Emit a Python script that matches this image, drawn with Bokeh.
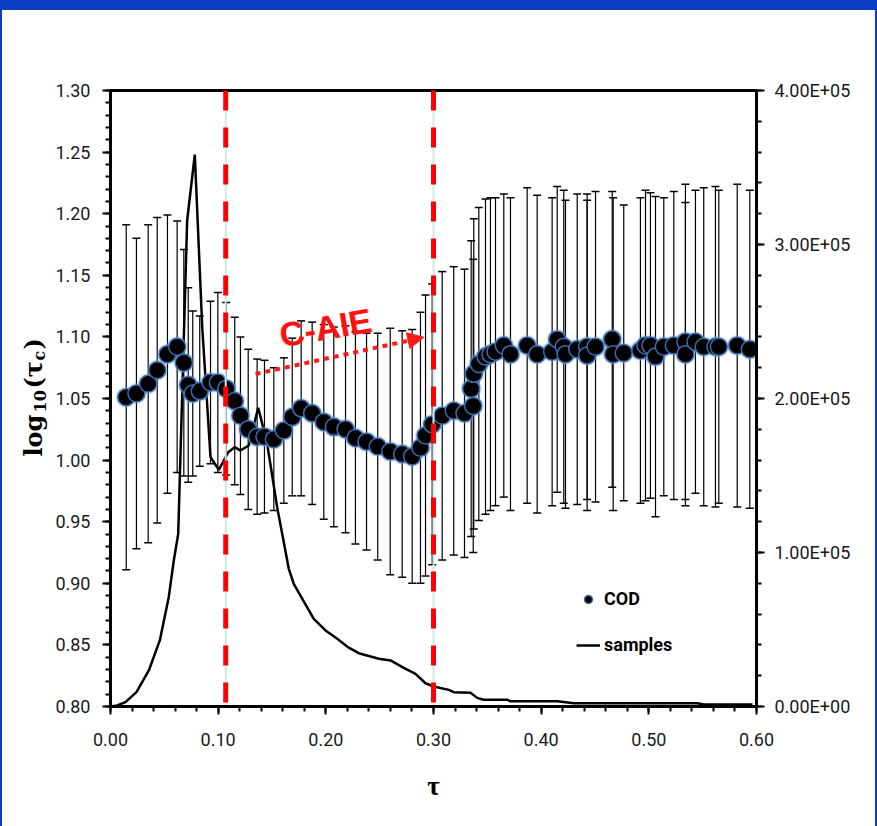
from bokeh.plotting import figure
from bokeh.models import (Range1d, LinearAxis, Whisker, TeeHead, ColumnDataSource, Label, Arrow,
                          NormalHead, Legend, LegendItem, SingleIntervalTicker, PrintfTickFormatter,
                          CustomJSTickFormatter, Div)
from bokeh.layouts import column, row
from bokeh.embed import file_html
from bokeh.resources import INLINE
import math

# ---------------- data ----------------
tau = [0.0146, 0.0241, 0.0350, 0.0434, 0.0529, 0.0619, 0.0681, 0.0722, 0.0764, 0.0829,
       0.0929, 0.0997, 0.1075, 0.1154, 0.1207, 0.1279, 0.1362, 0.1430, 0.1517, 0.1610,
       0.1688, 0.1771, 0.1873, 0.1981, 0.2074, 0.2183, 0.2275, 0.2378, 0.2482, 0.2598,
       0.2709, 0.2802, 0.2879, 0.2926, 0.2988, 0.3081, 0.3188, 0.3288, 0.3369, 0.3350,
       0.3374, 0.3421, 0.3483, 0.3529, 0.3576, 0.3653, 0.3715, 0.3870, 0.3963, 0.4102,
       0.4149, 0.4210, 0.4226, 0.4335, 0.4427, 0.4427, 0.4505, 0.4660, 0.4669, 0.4767,
       0.4922, 0.4969, 0.5015, 0.5062, 0.5139, 0.5232, 0.5340, 0.5340, 0.5433, 0.5510,
       0.5619, 0.5650, 0.5821, 0.5938]
cod = [1.051, 1.054, 1.062, 1.073, 1.086, 1.092, 1.079, 1.061, 1.054, 1.056,
       1.063, 1.063, 1.058, 1.048, 1.036, 1.025, 1.019, 1.019, 1.017, 1.024,
       1.035, 1.042, 1.038, 1.031, 1.027, 1.025, 1.018, 1.015, 1.011, 1.007,
       1.005, 1.003, 1.010, 1.020, 1.029, 1.036, 1.040, 1.038, 1.044, 1.058,
       1.070, 1.078, 1.084, 1.086, 1.088, 1.093, 1.086, 1.093, 1.086, 1.088,
       1.098, 1.092, 1.086, 1.090, 1.092, 1.085, 1.092, 1.098, 1.086, 1.087,
       1.089, 1.093, 1.093, 1.084, 1.092, 1.093, 1.096, 1.086, 1.096, 1.092,
       1.092, 1.092, 1.093, 1.090]
cod_err = [0.140, 0.126, 0.129, 0.124, 0.113, 0.102, 0.092, 0.079, 0.067, 0.061,
           0.066, 0.073, 0.070, 0.068, 0.064, 0.065, 0.063, 0.062, 0.058, 0.059,
           0.064, 0.071, 0.074, 0.079, 0.081, 0.084, 0.086, 0.088, 0.092, 0.100,
           0.100, 0.103, 0.110, 0.114, 0.114, 0.117, 0.117, 0.117, 0.119, 0.120,
           0.126, 0.127, 0.128, 0.127, 0.125, 0.123, 0.127, 0.128, 0.129, 0.125,
           0.124, 0.127, 0.125, 0.126, 0.124, 0.126, 0.126, 0.120, 0.127, 0.120,
           0.124, 0.126, 0.124, 0.130, 0.121, 0.125, 0.128, 0.123, 0.123, 0.129,
           0.130, 0.127, 0.131, 0.129]

samp_tau = [0.0, 0.0062, 0.0139, 0.0241, 0.0356, 0.0458, 0.0541, 0.0588, 0.0629, 0.0712,
            0.0783, 0.0852, 0.0929, 0.1006, 0.1093, 0.1154, 0.1207, 0.1284, 0.1372, 0.1455,
            0.1548, 0.1656, 0.1702, 0.1888, 0.1997, 0.2106, 0.2213, 0.2306, 0.2492, 0.2601,
            0.2724, 0.2833, 0.2926, 0.3003, 0.3142, 0.3188, 0.3344, 0.3406, 0.3467, 0.3684,
            0.3715, 0.4149, 0.4303, 0.5449, 0.5510, 0.5963]
samples = [0, 650, 2800, 9300, 23400, 42900, 71000, 94800, 112100, 315600,
           358400, 246300, 161900, 153700, 165100, 168400, 166200, 169500, 194000, 170600,
           129400, 89400, 79700, 56900, 49400, 44000, 38200, 34600, 31000, 29900,
           25100, 21200, 15100, 13000, 10800, 9300, 8900, 5600, 4400, 4400,
           3400, 3400, 2100, 2100, 1300, 1300]

regime_bounds = [0.107, 0.300]
caie_arrow = [0.1347, 1.0699, 0.291, 1.0997]   # x0, y0, x1, y1
caie_label = ["C-AIE", 0.1997, 1.1076]

# y-axis title "log10(tau_c)" split into normal / subscript pieces
ytitle_text = ["log", "10", "(τ", "c", ")"]
ytitle_size = ["24px", "16px", "24px", "16px", "24px"]
ytitle_sub = [False, True, False, True, False]
ytitle_advance = [44, 24, 28, 11, 0]     # pixels along the rotated baseline

TICK_FONT = "'Liberation Sans Narrow', 'Arial Narrow', Roboto, sans-serif"
SERIF = "'Liberation Serif', 'Times New Roman', serif"
TITLE_FONT = "DejaVu Serif"
BLUE = "#0a3cc4"
FIG_H = 816
TITLE_W = 50

# ---------------- y-title strip ----------------
tfig = figure(width=TITLE_W, height=FIG_H, x_range=Range1d(0, TITLE_W), y_range=Range1d(0, FIG_H),
              output_backend="svg", toolbar_location=None,
              x_axis_location=None, y_axis_location=None,
              min_border_left=0, min_border_right=0, min_border_top=0, min_border_bottom=0)
tfig.outline_line_color = None
tfig.xgrid.visible = False
tfig.ygrid.visible = False
pos = 250
for txt, fs, sub, adv in zip(ytitle_text, ytitle_size, ytitle_sub, ytitle_advance):
    tfig.add_layout(Label(x=(37 if sub else 31), y=pos, x_units="screen", y_units="screen",
                          text=txt, angle=math.pi / 2, text_align="left", text_baseline="alphabetic",
                          text_font=TITLE_FONT, text_font_style="bold", text_font_size=fs,
                          text_color="black"))
    pos += adv

# ---------------- main figure ----------------
p = figure(width=873 - TITLE_W, height=FIG_H, x_range=Range1d(0, 0.60001), y_range=Range1d(0.8, 1.30001),
           output_backend="svg", toolbar_location=None,
           min_border_left=108 - TITLE_W, min_border_right=119, min_border_top=80, min_border_bottom=120)
p.extra_y_ranges = {"samp": Range1d(0, 4.0001e5)}
p.xgrid.visible = False
p.ygrid.visible = False
p.outline_line_color = "black"
p.outline_line_width = 3
p.background_fill_color = "white"
p.border_fill_color = "white"

right = LinearAxis(y_range_name="samp")
p.add_layout(right, "right")

p.xaxis.ticker = SingleIntervalTicker(interval=0.1, num_minor_ticks=5)
p.yaxis.ticker = SingleIntervalTicker(interval=0.05, num_minor_ticks=5)
right.ticker = SingleIntervalTicker(interval=1e5, num_minor_ticks=5)
p.xaxis.formatter = PrintfTickFormatter(format="%.2f")
p.yaxis.formatter = PrintfTickFormatter(format="%.2f")
right.formatter = CustomJSTickFormatter(code="""
    const s = tick.toExponential(2).toUpperCase();
    const parts = s.split("E");
    const e = parts[1];
    return parts[0] + "E" + e[0] + e.slice(1).padStart(2, "0");
""")

for ax in [p.xaxis[0], p.yaxis[0], right]:
    ax.axis_line_color = "black"
    ax.axis_line_width = 3
    ax.major_tick_line_color = "black"
    ax.minor_tick_line_color = "black"
    ax.major_tick_line_width = 2
    ax.minor_tick_line_width = 2
    ax.major_tick_in = 0
    ax.major_tick_out = 8
    ax.minor_tick_in = 0
    ax.minor_tick_out = 5
    ax.major_label_text_font = TICK_FONT
    ax.major_label_text_font_size = "18px"
    ax.major_label_text_color = "#1a1a1a"

p.xaxis.major_label_standoff = 18
p.yaxis.major_label_standoff = 12
right.major_label_standoff = 10
p.xaxis.axis_label = "τ"
p.xaxis.axis_label_text_font = SERIF
p.xaxis.axis_label_text_font_style = "bold"
p.xaxis.axis_label_text_font_size = "27px"
p.xaxis.axis_label_text_color = "black"
p.xaxis.axis_label_standoff = 22

# ---------------- glyphs ----------------
src = ColumnDataSource(dict(tau=tau, cod=cod,
                            upper=[c + e for c, e in zip(cod, cod_err)],
                            lower=[c - e for c, e in zip(cod, cod_err)]))

wh = Whisker(base="tau", upper="upper", lower="lower", source=src, dimension="height",
             line_color="black", line_width=1.2, level="underlay",
             upper_head=TeeHead(size=8, line_color="black", line_width=1.5),
             lower_head=TeeHead(size=8, line_color="black", line_width=1.5))
p.add_layout(wh)

samp_line = p.line(samp_tau, samples, y_range_name="samp", line_color="black", line_width=2.5)

p.scatter("tau", "cod", source=src, size=21, fill_color="#7aa3d6", line_color=None, fill_alpha=0.35)
p.scatter("tau", "cod", source=src, size=17, fill_color="black",
          line_color="#3a6fb0", line_width=1.5)
# legend proxy (kept outside the visible ranges)
cod_leg = p.scatter(x=[-1.0], y=[-1.0], size=11, fill_color="black", line_color="#3a6fb0", line_width=1.5)

# regime boundaries
p.segment(x0=regime_bounds, y0=[1.3, 1.3], x1=regime_bounds, y1=[0.8, 0.8],
          line_color="#cfe6ec", line_width=2)
p.segment(x0=regime_bounds, y0=[1.3, 1.3], x1=regime_bounds, y1=[0.8, 0.8],
          line_color="#ff0000", line_width=5, line_dash="20 17")

# C-AIE arrow + text (with a soft glow underneath)
p.add_layout(Arrow(x_start=caie_arrow[0], y_start=caie_arrow[1], x_end=caie_arrow[2], y_end=caie_arrow[3],
                   line_color="#ff1a1a", line_width=4, line_dash="5 5",
                   end=NormalHead(size=16, fill_color="#ff1a1a", line_color="#ff1a1a", line_width=1)))
p.add_layout(Label(x=caie_label[1], y=caie_label[2], text=caie_label[0], angle=0.17,
                   text_align="center", text_baseline="middle",
                   text_font="'Liberation Sans', Arial, sans-serif", text_font_style="bold",
                   text_font_size="35px", text_color="#ff6060", text_alpha=0.35))
p.add_layout(Label(x=caie_label[1], y=caie_label[2], text=caie_label[0], angle=0.17,
                   text_align="center", text_baseline="middle",
                   text_font="'Liberation Sans', Arial, sans-serif", text_font_style="bold",
                   text_font_size="34px", text_color="#ff1010"))

legend = Legend(items=[LegendItem(label="COD", renderers=[cod_leg]),
                       LegendItem(label="samples", renderers=[samp_line])],
                location=(466, 51), orientation="vertical",
                glyph_width=24, glyph_height=20, label_height=20, label_width=40,
                spacing=25, padding=0, margin=0, label_standoff=4,
                border_line_color=None, background_fill_alpha=0,
                label_text_font=TICK_FONT, label_text_font_style="bold",
                label_text_font_size="18px", label_text_color="black")
p.add_layout(legend)

band = Div(width=873, height=10, margin=0, styles={"background-color": BLUE})
left_edge = Div(width=2, height=826, margin=0, styles={"background-color": BLUE})
right_edge = Div(width=2, height=826, margin=0, styles={"background-color": BLUE})
layout = row(left_edge,
             column(band, row(tfig, p, spacing=0, margin=0), spacing=0, margin=0),
             right_edge, spacing=0, margin=0)

open("out.html", "w").write(file_html(layout, INLINE))
